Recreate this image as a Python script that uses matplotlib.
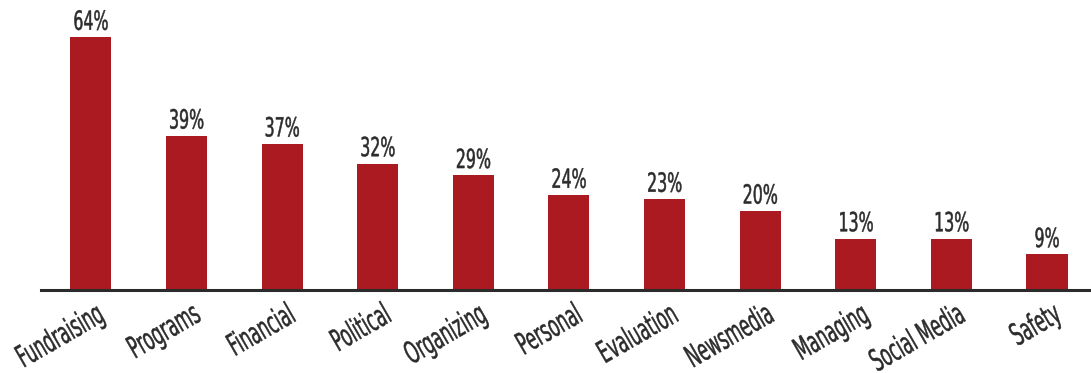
import matplotlib
matplotlib.use("Agg")
import matplotlib.pyplot as plt
from matplotlib.patheffects import AbstractPathEffect
from matplotlib.transforms import Affine2D

plt.rcParams["font.family"] = ["DejaVu Sans"]

categories = ["Fundraising", "Programs", "Financial", "Political", "Organizing",
              "Personal", "Evaluation", "Newsmedia", "Managing", "Social Media", "Safety"]
values = [64, 39, 37, 32, 29, 24, 23, 20, 13, 13, 9]

BAR = "#ab1a21"
TEXT = "#2b2b2b"


class Squeeze(AbstractPathEffect):
    """Narrow the glyphs horizontally (and thicken a bit) to mimic a condensed face."""

    def __init__(self, sx=0.63, anchor="center", weight=0.3):
        super().__init__()
        self.sx = sx
        self.anchor = anchor
        self.weight = weight

    def draw_path(self, renderer, gc, tpath, affine, rgbFace=None):
        ext = tpath.get_extents()
        cx = ext.x1 if self.anchor == "right" else (ext.x0 + ext.x1) / 2
        t = Affine2D().translate(-cx, 0).scale(self.sx, 1).translate(cx, 0) + affine
        gc0 = renderer.new_gc()
        gc0.copy_properties(gc)
        gc0.set_linewidth(self.weight)
        gc0.set_foreground(rgbFace)
        renderer.draw_path(gc0, tpath, t, rgbFace)
        gc0.restore()


fig = plt.figure(figsize=(10.91, 3.73), dpi=100)
ax = fig.add_axes([0, 83 / 373, 1, 290 / 373])

x = list(range(len(categories)))
ax.bar(x, values, width=0.43, color=BAR, zorder=2)
for xi, v in zip(x, values):
    ax.annotate(f"{v}%", xy=(xi, v), xytext=(0, 1), textcoords="offset points",
                ha="center", va="bottom", fontsize=19, color=TEXT,
                path_effects=[Squeeze(0.6, "center", 0.35)])

for xi, cat in zip(x, categories):
    ax.annotate(cat, xy=(xi, 0), xycoords=("data", "axes fraction"),
                xytext=(3.5, -7), textcoords="offset points",
                rotation=30, rotation_mode="anchor", ha="right", va="top",
                fontsize=22, color=TEXT, annotation_clip=False,
                path_effects=[Squeeze(0.54, "right", 0.35)])

ax.set_xlim(-0.95, 10.46)
ax.set_ylim(0, 73.4)
ax.axhline(0, xmin=(-0.52 + 0.95) / 11.41, xmax=1, color=TEXT, lw=2.2,
           zorder=3, clip_on=False)

ax.set_xticks([])
ax.set_yticks([])
for s in ax.spines.values():
    s.set_visible(False)

fig.savefig("out.png", dpi=100, facecolor="white")
